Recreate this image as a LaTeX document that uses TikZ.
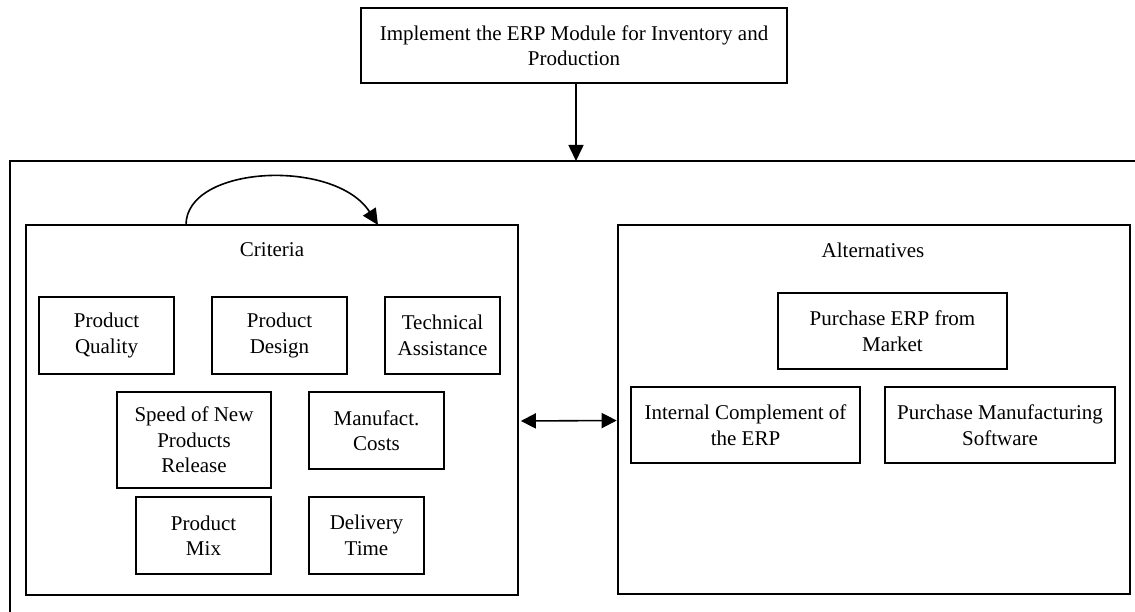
\documentclass[tikz,border=0pt]{standalone}
\usepackage{fontspec}
\setmainfont{Liberation Serif}
\usetikzlibrary{arrows.meta,calc}
\begin{document}
\begin{tikzpicture}[x=1pt,y=-1pt,
  every node/.style={font=\fontsize{21}{25.5}\selectfont},
  box/.style={draw,line width=1.6pt,rectangle,inner sep=0pt,align=center},
  panel/.style={draw,line width=1.6pt,rectangle,inner sep=0pt},
  lbl/.style={inner sep=0pt},
  conn/.style={line width=1.6pt,-{Triangle[length=16pt,width=15pt]}},
  dconn/.style={line width=1.6pt,{Triangle[length=15pt,width=15pt]}-{Triangle[length=15pt,width=15pt]}}]
\useasboundingbox (0,0) rectangle (1135,612);
\clip (0,0) rectangle (1135,612);
% outer frame (extends beyond the visible area)
\draw[line width=1.6pt] (10,640) -- (10,161) -- (1160,161);
% top box
\node[box,minimum width=426pt,minimum height=75pt] (top) at (574,45.5) {Implement the ERP Module for Inventory and\\Production};
\coordinate (frametop) at (576,161);
\draw[conn] (top.south -| frametop) -- (frametop);
% panels
\node[panel,minimum width=492pt,minimum height=370pt] (crit) at (272,410) {};
\node[panel,minimum width=512pt,minimum height=369pt] (alt) at (874,409.5) {};
\node[lbl] (critl) at (272,250) {Criteria};
\node[lbl] (altl) at (873,250) {Alternatives};
% criteria boxes
\node[box,minimum width=135pt,minimum height=77pt] (pq) at (106.5,335.5) {Product\\Quality};
\node[box,minimum width=135pt,minimum height=77pt] (pd) at (279.5,335.5) {Product\\Design};
\node[box,minimum width=115pt,minimum height=77pt] (ta) at (442.5,335.5) {Technical\\Assistance};
\node[box,minimum width=154pt,minimum height=96pt] (sp) at (194,440) {Speed of New\\Products\\Release};
\node[box,minimum width=135pt,minimum height=77pt] (mc) at (376.5,430.5) {Manufact.\\Costs};
\node[box,minimum width=135pt,minimum height=77pt] (pm) at (203.5,535.5) {Product\\Mix};
\node[box,minimum width=115pt,minimum height=77pt] (dt) at (366.5,535.5) {Delivery\\Time};
% alternatives boxes
\node[box,minimum width=229pt,minimum height=76pt] (pe) at (892.5,331) {Purchase ERP from\\Market};
\node[box,minimum width=229pt,minimum height=76pt] (ic) at (745.5,425) {Internal Complement of\\the ERP};
\node[box,minimum width=230pt,minimum height=76pt] (ms) at (1000,425) {Purchase Manufacturing\\Software};
% loop arrow on criteria
\coordinate (ls) at (186,225);
\coordinate (le) at (378,225);
\draw[conn] (ls) .. controls (186,165) and (335,158) .. (le);
% double arrow between panels
\draw[dconn,shorten <=2pt,shorten >=0.5pt] ($(crit.east)+(0,11)$) -- ($(alt.west)+(0,11)$);
\end{tikzpicture}
\end{document}
